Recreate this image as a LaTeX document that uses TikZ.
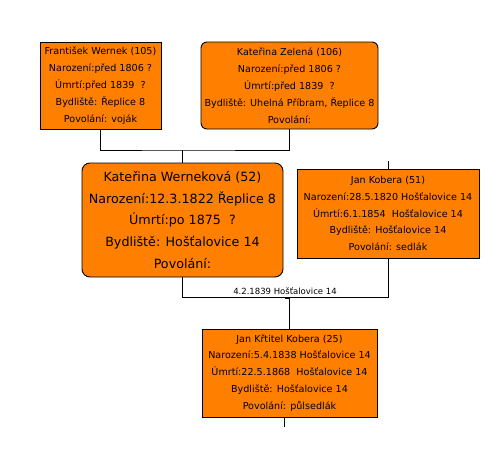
\documentclass[tikz,border=0pt]{standalone}
\usepackage{fontspec}
\setmainfont{DejaVu Sans}
\definecolor{rodorange}{RGB}{255,128,0}
\tikzset{
  osoba/.style={draw=black, fill=rodorange, line width=0.9pt, inner sep=0pt, align=center,
    font=\fontsize{9.6}{16.9}\selectfont},
  osobar/.style={osoba, rounded corners=6pt},
  vazba/.style={line width=0.9pt},
}

\begin{document}
\begin{tikzpicture}[x=1pt, y=-1pt]
		\useasboundingbox (0, 0) rectangle (499, 458);
		% rodice nevesty
		\node [osoba, minimum width=121pt, minimum height=87pt] (wernek) at (100.5, 85.5)
			{František Wernek (105)\\Narození:před 1806 ?\\Úmrtí:před 1839 ~?\\Bydliště: Řeplice 8\\Povolání: voják};
		\node [osobar, minimum width=177pt, minimum height=87pt] (zelena) at (289.5, 85.5)
			{Kateřina Zelená (106)\\Narození:před 1806 ?\\Úmrtí:před 1839 ~?\\Bydliště: Uhelná Příbram, Řeplice 8\\Povolání:};
		% manzele
		\node [osobar, rounded corners=8pt, minimum width=201pt, minimum height=114pt,
			font=\fontsize{12.7}{21.7}\selectfont] (wernekova) at (182.5, 220)
			{Kateřina Werneková (52)\\Narození:12.3.1822 Řeplice 8\\Úmrtí:po 1875 ~?\\Bydliště: Hošťalovice 14\\Povolání:};
		\node [osoba, minimum width=182pt, minimum height=89pt] (kobera) at (388, 213.5)
			{Jan Kobera (51)\\Narození:28.5.1820 Hošťalovice 14\\Úmrtí:6.1.1854 ~Hošťalovice 14\\Bydliště: Hošťalovice 14\\Povolání: sedlák};
		% dite
		\node [osoba, minimum width=175pt, minimum height=88pt] (krtitel) at (289.5, 373)
			{Jan Křtitel Kobera (25)\\Narození:5.4.1838 Hošťalovice 14\\Úmrtí:22.5.1868 ~Hošťalovice 14\\Bydliště: Hošťalovice 14\\Povolání: půlsedlák};
		% spojnice rodicu
		\coordinate (rodice) at (182.5, 150);
		\draw [vazba] (wernek.south) |- (rodice) -| (zelena.south);
		\draw [vazba] (rodice) -- (wernekova.north);
		\coordinate (koberaRodice) at (388, 161);
		\draw [vazba] (koberaRodice) -- (kobera.north);
		% snatek
		\coordinate (snatek) at (388, 297);
		\draw [vazba] (wernekova.south) |- (snatek) -- (kobera.south);
		\node [font=\fontsize{8.5}{10}\selectfont] (datum) at (285, 291.5) {4.2.1839 Hošťalovice 14};
		\coordinate (dite) at (285, 298);
		\draw [vazba] (dite) -| (krtitel.north);
		\coordinate (potomci) at (284, 427);
		\draw [vazba] (krtitel.south -| potomci) -- (potomci);
	\end{tikzpicture}
\end{document}
